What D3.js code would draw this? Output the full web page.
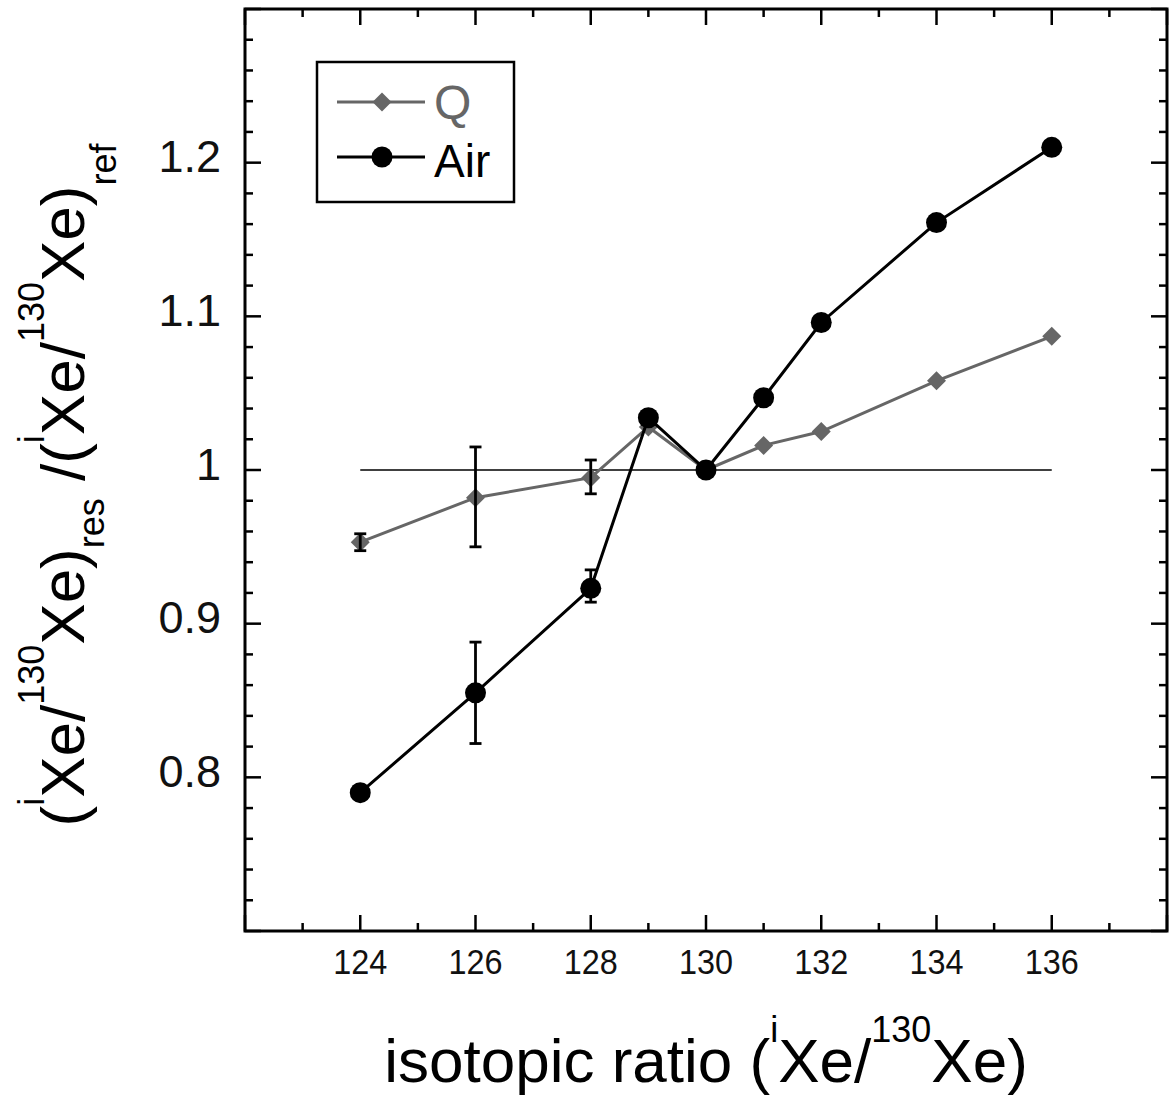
<!DOCTYPE html>
<html>
<head>
<meta charset="utf-8">
<script src="https://cdn.jsdelivr.net/npm/d3@7"></script>
<style>
  html, body { margin: 0; padding: 0; background: #fff; }
  svg { display: block; }
  text { font-family: "Liberation Sans", Arial, Helvetica, sans-serif; }
</style>
</head>
<body>
<script>
// ---- data ----
const isotopes = [124, 126, 128, 129, 130, 131, 132, 134, 136];
const qValues = [0.953, 0.982, 0.995, 1.028, 1.000, 1.016, 1.025, 1.058, 1.087];
const airValues = [0.790, 0.855, 0.923, 1.034, 1.000, 1.047, 1.096, 1.161, 1.210];

const qErrIsotopes = [124, 126, 128];
const qErrLow = [0.9475, 0.950, 0.9845];
const qErrHigh = [0.9585, 1.015, 1.0065];

const airErrIsotopes = [126, 128];
const airErrLow = [0.822, 0.914];
const airErrHigh = [0.888, 0.935];

const xTickLabels = [124, 126, 128, 130, 132, 134, 136];
const yTickLabels = [0.8, 0.9, 1.0, 1.1, 1.2];
const legendLabels = ["Q", "Air"];

// ---- layout ----
const W = 1171, H = 1101;
const L = 245, R = 1167, T = 9, B = 931;
const qColor = "#666666";

const svg = d3.select("body").append("svg").attr("width", W).attr("height", H);

const x = d3.scaleLinear().domain([122, 138]).range([L, R]);
const y = d3.scaleLinear().domain([0.7, 1.3]).range([B, T]);

// ---- ticks (inward, all four sides) ----
const tickG = svg.append("g").attr("stroke", "#000").attr("stroke-width", 2.5);
const xMajor = d3.range(122, 138.01, 2);
const xMinor = d3.range(123, 138, 2);
const yMajor = d3.range(0, 7).map(i => +(0.7 + i * 0.1).toFixed(2));
const yMinor = d3.range(0, 31).map(i => +(0.7 + i * 0.02).toFixed(2)).filter(v => Math.abs((v * 10) - Math.round(v * 10)) > 1e-6);

function xt(vals, len) {
  vals.forEach(v => {
    tickG.append("line").attr("x1", x(v)).attr("x2", x(v)).attr("y1", B).attr("y2", B - len);
    tickG.append("line").attr("x1", x(v)).attr("x2", x(v)).attr("y1", T).attr("y2", T + len);
  });
}
function yt(vals, len) {
  vals.forEach(v => {
    tickG.append("line").attr("y1", y(v)).attr("y2", y(v)).attr("x1", L).attr("x2", L + len);
    tickG.append("line").attr("y1", y(v)).attr("y2", y(v)).attr("x1", R).attr("x2", R - len);
  });
}
xt(xMajor, 16); xt(xMinor, 8);
yt(yMajor, 16); yt(yMinor, 8);

// frame
svg.append("rect").attr("x", L).attr("y", T).attr("width", R - L).attr("height", B - T)
  .attr("fill", "none").attr("stroke", "#000").attr("stroke-width", 3);

// tick labels
svg.append("g").selectAll("text").data(xTickLabels).join("text")
  .attr("transform", d => `translate(${x(d)},974) scale(0.9,1)`)
  .attr("text-anchor", "middle").attr("font-size", 36).attr("fill", "#111")
  .text(d => d);

svg.append("g").selectAll("text").data(yTickLabels).join("text")
  .attr("x", 221).attr("y", d => y(d) + 9.5)
  .attr("text-anchor", "end").attr("font-size", 45).attr("fill", "#111")
  .text(d => d3.format("")(d));

// reference line y = 1
svg.append("line")
  .attr("x1", x(d3.min(isotopes))).attr("x2", x(d3.max(isotopes)))
  .attr("y1", y(1)).attr("y2", y(1))
  .attr("stroke", "#000").attr("stroke-width", 1.5);

const line = d3.line().x(d => x(d[0])).y(d => y(d[1]));
const qData = isotopes.map((k, i) => [k, qValues[i]]);
const airData = isotopes.map((k, i) => [k, airValues[i]]);

function diamondPath(s) {
  return `M0,${-s}L${s},0L0,${s}L${-s},0Z`;
}

// Q series
svg.append("path").datum(qData).attr("d", line)
  .attr("fill", "none").attr("stroke", qColor).attr("stroke-width", 3);

function errBars(iso, lo, hi) {
  const g = svg.append("g").attr("stroke", "#000").attr("stroke-width", 2.8);
  iso.forEach((k, i) => {
    const cx = x(k);
    g.append("line").attr("x1", cx).attr("x2", cx).attr("y1", y(lo[i])).attr("y2", y(hi[i]));
    g.append("line").attr("x1", cx - 6).attr("x2", cx + 6).attr("y1", y(lo[i])).attr("y2", y(lo[i]));
    g.append("line").attr("x1", cx - 6).attr("x2", cx + 6).attr("y1", y(hi[i])).attr("y2", y(hi[i]));
  });
}

svg.append("g").selectAll("path").data(qData).join("path")
  .attr("transform", d => `translate(${x(d[0])},${y(d[1])})`)
  .attr("d", diamondPath(9.5)).attr("fill", qColor);
errBars(qErrIsotopes, qErrLow, qErrHigh);

// Air series
svg.append("path").datum(airData).attr("d", line)
  .attr("fill", "none").attr("stroke", "#000").attr("stroke-width", 3);
errBars(airErrIsotopes, airErrLow, airErrHigh);
svg.append("g").selectAll("circle").data(airData).join("circle")
  .attr("cx", d => x(d[0])).attr("cy", d => y(d[1])).attr("r", 10.5).attr("fill", "#000");

// ---- legend ----
const lg = svg.append("g");
lg.append("rect").attr("x", 317).attr("y", 62).attr("width", 197).attr("height", 140)
  .attr("fill", "#fff").attr("stroke", "#000").attr("stroke-width", 2.5);
lg.append("line").attr("x1", 337).attr("x2", 425).attr("y1", 102).attr("y2", 102)
  .attr("stroke", qColor).attr("stroke-width", 3);
lg.append("path").attr("transform", "translate(382,102)").attr("d", diamondPath(9.5)).attr("fill", qColor);
lg.append("text").attr("x", 434).attr("y", 119).attr("font-size", 48).attr("fill", qColor).text(legendLabels[0]);
lg.append("line").attr("x1", 337).attr("x2", 425).attr("y1", 157).attr("y2", 157)
  .attr("stroke", "#000").attr("stroke-width", 3);
lg.append("circle").attr("cx", 382).attr("cy", 157).attr("r", 10.5).attr("fill", "#000");
lg.append("text").attr("x", 434).attr("y", 177).attr("font-size", 46).attr("fill", "#000").text(legendLabels[1]);

// ---- axis titles ----
const big = 62, small = 36, sup = 40;
const xt2 = svg.append("text").attr("x", 706).attr("y", 1082)
  .attr("text-anchor", "middle").attr("font-size", big).attr("fill", "#000");
xt2.append("tspan").text("isotopic ratio (");
xt2.append("tspan").attr("font-size", small).attr("dy", -sup).text("i");
xt2.append("tspan").attr("font-size", big).attr("dy", sup).text("Xe/");
xt2.append("tspan").attr("font-size", small).attr("dy", -sup).text("130");
xt2.append("tspan").attr("font-size", big).attr("dy", sup).text("Xe)");

const yt2 = svg.append("text").attr("transform", "translate(84,485) rotate(-90)")
  .attr("text-anchor", "middle").attr("font-size", big).attr("fill", "#000");
yt2.append("tspan").text("(");
yt2.append("tspan").attr("font-size", small).attr("dy", -sup).text("i");
yt2.append("tspan").attr("font-size", big).attr("dy", sup).text("Xe/");
yt2.append("tspan").attr("font-size", small).attr("dy", -sup).text("130");
yt2.append("tspan").attr("font-size", big).attr("dy", sup).text("Xe)");
yt2.append("tspan").attr("font-size", small).attr("dy", 20).text("res");
yt2.append("tspan").attr("font-size", big).attr("dy", -20).text(" /(");
yt2.append("tspan").attr("font-size", small).attr("dy", -sup).text("i");
yt2.append("tspan").attr("font-size", big).attr("dy", sup).text("Xe/");
yt2.append("tspan").attr("font-size", small).attr("dy", -sup).text("130");
yt2.append("tspan").attr("font-size", big).attr("dy", sup).text("Xe)");
yt2.append("tspan").attr("font-size", small).attr("dy", 32).text("ref");
</script>
</body>
</html>
